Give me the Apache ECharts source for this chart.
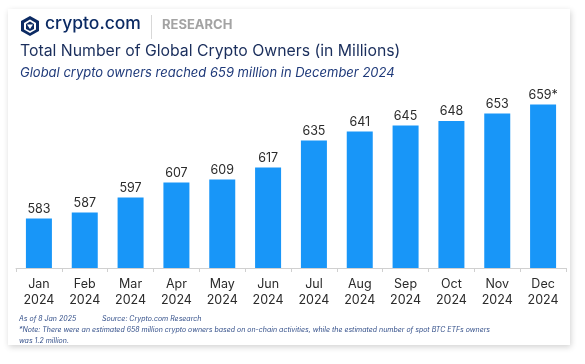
<!DOCTYPE html>
<html>
<head>
<meta charset="utf-8">
<script src="https://cdn.jsdelivr.net/npm/echarts@6/dist/echarts.min.js"></script>
<style>
html,body{margin:0;padding:0;background:#fff;}
#c{width:585px;height:364px;}
</style>
</head>
<body>
<div id="c"></div>
<script>
const months = ['Jan','Feb','Mar','Apr','May','Jun','Jul','Aug','Sep','Oct','Nov','Dec'];
const years = ['2024','2024','2024','2024','2024','2024','2024','2024','2024','2024','2024','2024'];
const owners = [583,587,597,607,609,617,635,641,645,648,653,659];
const valueSuffix = ['','','','','','','','','','','','*'];

const categories = months.map((m,i)=>m+'\n'+years[i]);
const font = 'Inter, "Noto Sans", sans-serif';

const chart = echarts.init(document.getElementById('c'), null, {renderer:'canvas'});
chart.setOption({
  backgroundColor:'#ffffff',
  animation:false,
  graphic:[
    {type:'rect', shape:{x:8,y:9,width:562,height:336},
     style:{fill:'#fff', shadowBlur:6, shadowColor:'rgba(0,0,0,0.18)', shadowOffsetX:1, shadowOffsetY:2}, z:-10},
    // logo
    {type:'polygon', shape:{points:[[30,16],[39,21],[39,31],[30,36],[21,31],[21,21]]}, style:{fill:'#0b2a63'}},
    {type:'polygon', shape:{points:[[30,19.5],[36,23],[36,29.5],[30,33],[24,29.5],[24,23]]}, style:{fill:'#fff'}},
    {type:'polygon', shape:{points:[[30,21.5],[34,24],[34,29],[30,31],[26,29],[26,24]]}, style:{fill:'#0b2a63'}},
    {type:'polygon', shape:{points:[[27,24.5],[33,24.5],[30,29]]}, style:{fill:'#fff'}},
    {type:'text', left:45, top:15, style:{text:'crypto.com', font:'500 17.5px '+font, fill:'#0b2a63'}},
    {type:'rect', shape:{x:151,y:15,width:1,height:24}, style:{fill:'#d8d8d8'}},
    {type:'text', left:162, top:19, style:{text:'RESEARCH', font:'700 13px '+font, fill:'#a3a3a3'}},
    {type:'text', left:20, top:43, style:{text:'Total Number of Global Crypto Owners (in Millions)', font:'400 15.8px '+font, fill:'#1a2e5c'}},
    {type:'text', left:20, top:67, style:{text:'Global crypto owners reached 659 million in December 2024', font:'italic 400 13px '+font, fill:'#1f3a7a'}},
    {type:'text', left:19, top:315, style:{text:'As of 8 Jan 2025', font:'italic 7px '+font, fill:'#34508a'}},
    {type:'text', left:102, top:315, style:{text:'Source: Crypto.com Research', font:'italic 7px '+font, fill:'#34508a'}},
    {type:'text', left:19, top:326, style:{text:'*Note: There were an estimated 658 million crypto owners based on on-chain activities, while the estimated number of spot BTC ETFs owners', font:'italic 7px '+font, fill:'#34508a'}},
    {type:'text', left:19, top:337, style:{text:'was 1.2 million.', font:'italic 7px '+font, fill:'#34508a'}}
  ],
  grid:{left:16, right:19, top:88, height:180, containLabel:false},
  xAxis:{
    type:'category', data:categories,
    axisLine:{lineStyle:{color:'#d0d0d0'}},
    axisTick:{show:true, length:4, lineStyle:{color:'#d0d0d0'}},
    axisLabel:{color:'#2b2b2b', fontSize:12.5, fontFamily:font, lineHeight:16, margin:8, interval:0}
  },
  yAxis:{type:'value', min:550, max:670, show:false, splitLine:{show:false}},
  series:[{
    type:'bar', data:owners, barWidth:26,
    itemStyle:{color:'#1896f8'},
    label:{show:true, position:'top', distance:3, color:'#2b2b2b', fontSize:12.5, fontFamily:font,
      formatter:p=>p.value+valueSuffix[p.dataIndex]}
  }]
});
</script>
</body>
</html>
